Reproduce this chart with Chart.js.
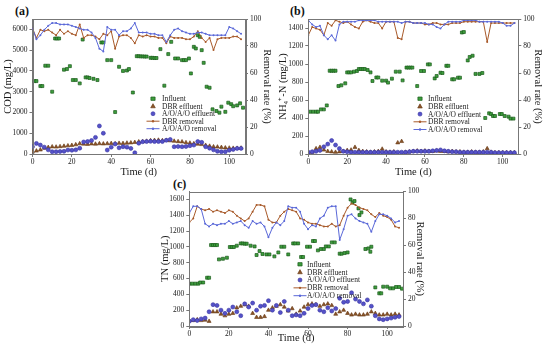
<!DOCTYPE html>
<html><head><meta charset="utf-8">
<script src="https://cdn.jsdelivr.net/npm/chart.js@4.4.1/dist/chart.umd.min.js"></script>
<style>
html,body{margin:0;padding:0;background:#fff;width:550px;height:353px;overflow:hidden;position:relative}
canvas{position:absolute}
.lbl{position:absolute;font:bold 12px 'Liberation Serif',serif;line-height:12px;color:#111}
</style></head><body>
<div class="lbl" style="left:15px;top:5px">(a)</div>
<div class="lbl" style="left:290px;top:5px">(b)</div>
<div class="lbl" style="left:173px;top:178px">(c)</div>
<canvas id="ca" width="275" height="180" style="left:0;top:0;width:275px;height:180px"></canvas>
<canvas id="cb" width="275" height="180" style="left:275px;top:0;width:275px;height:180px"></canvas>
<canvas id="cc" width="280" height="178" style="left:150px;top:175px;width:280px;height:178px"></canvas>
<script>
// ---------- data ----------
const days = [0,2,4,6,8,10,12,14,16,18,20,22,24,26,28,30,32,34,36,38,40,42,44,46,48,50,52,54,56,58,60,62,64,66,68,70,72,74,76,78,80,82,84,86,88,90,92,94,96,98,100,102,104,106];
const legendLabels = ['Influent','DBR effluent','A/O/A/O effluent','DBR removal','A/O/A/O removal'];

// (a) COD
const codInfluentDays = [1,2,4,5,6.5,8,10,11.5,12.5,13.5,16,17.5,19,20.5,22,24,25.5,27,28,29,31,33,35,36,38,40,42,44,46,48,49,51,53,54,55,56,57,58,60,61,62,63,65,67,69,70.5,72.5,74,76,77,78,79.5,80.5,82,83,84,85,86,87,88.5,90,91.5,93.5,95,96,98,99.5,101,102,104,105.5,107];
const codInfluent = [3510,3510,3270,3270,4250,4250,3000,5560,5560,5560,4060,4090,4230,3560,3560,3400,5510,3690,3690,3660,3620,3560,5370,5370,4520,4520,2020,4200,4000,4020,4090,2960,4710,4710,4700,4700,4690,4690,4630,4630,4620,4620,5050,3290,4810,5400,4600,4600,4520,4520,4520,4600,3880,5160,5080,5720,5640,5000,4390,3240,3190,2150,2070,1990,2280,2030,2470,2400,2300,2340,2440,2230];
const codDbrEffluent = [100,150,200,280,320,350,340,360,380,400,420,450,500,480,470,490,480,500,490,500,510,500,520,510,530,540,560,590,600,620,650,660,670,650,660,640,620,600,590,550,530,500,480,460,420,380,350,340,320,300,290,280,280,290];
const codAoEffluent = [350,510,430,330,200,110,110,120,130,190,180,200,280,580,600,650,800,1350,1000,190,330,480,300,350,330,270,60,520,590,600,610,600,600,600,660,700,350,360,350,360,400,430,600,560,350,280,200,130,110,110,180,220,270,270];
const codDbrRemoval = [93,86,92,91,92,90,88,92,89,91,89,88,96,86,88,88,87,85,89,88,91,78,87,88,88,86,82,88,87,88,87,87,86,86,82,87,86,86,86,85,85,87,91,86,83,86,77,85,86,86,86,87,87,85];
const codAoRemoval = [93,85,88,92,95,97,97,96,96,96,95,94,93,92,92,90,86,78,76,94,92,92,88,91,91,93,97,90,90,90,89,89,88,88,83,88,92,93,91,90,89,89,90,90,89,88,88,88,88,88,94,93,91,89];
const codTicks = [0,1000,2000,3000,4000,5000,6000];

// (b) NH4+-N
const nhInfluentDays = [1,2.5,4,5,6.5,8,9.5,11,12,13,14,15.5,17,19,20,21,22,23.5,25,26,27,28,29,30.5,32,33,35,36,38,40,41,43,45,47,48.5,50.5,51.5,52.5,53.5,56,58,59.5,61.5,62.5,65,66,68,69,71,72,74,75,77,78,79,80,82,83,84.5,86,88,89.5,91,93,94,95,96,98.5,99.5,101,103,104,105.5];
const nhInfluent = [470,470,470,470,496,496,540,925,925,925,925,755,763,785,907,907,907,915,922,944,944,944,944,933,907,811,850,850,815,815,793,837,915,915,818,960,960,960,960,755,922,922,996,996,840,867,903,900,980,980,830,830,848,848,1350,1355,1040,1078,1092,890,890,900,400,452,444,422,422,444,444,422,415,393,393];
const nhDbrEffluent = [10,20,60,75,45,30,25,20,25,30,40,45,75,40,30,25,20,25,30,55,25,20,25,125,140,20,25,30,35,30,35,30,30,35,30,30,25,30,25,25,20,20,25,20,20,25,60,20,15,15,15,15,15,15];
const nhAoEffluent = [20,25,30,40,80,110,150,100,60,30,25,20,20,20,20,20,20,20,20,20,20,20,20,20,20,20,25,30,30,30,30,30,35,40,45,35,30,25,25,20,20,20,20,20,20,20,20,20,15,15,15,15,15,15];
const nhDbrRemoval = [88,94,93,92,88,97,95,99,98,97,98,96,94,93,98,99,98,97,97,93,98,98,98,86,85,98,98,97,97,97,96,96,97,97,96,96,96,97,97,97,98,98,98,98,98,98,83,97,97,97,97,97,97,97];
const nhAoRemoval = [99,96,94,95,88,85,88,84,96,98,98,98,98,99,99,99,99,99,98,98,98,98,98,98,97,98,98,97,97,97,97,96,96,94,93,96,98,98,98,98,99,99,99,99,98,98,98,98,98,98,97,95,95,97];
const nhTicks = [0,200,400,600,800,1000,1200,1400];

// (c) TN
const tnInfluentDays = [0,1.5,3,4.5,5.5,7,9,10,11,12,13,14,15,17,19,20.5,21.5,22.5,24,26,27,28,29,31,33,34,35.5,37,39,40.5,43,45,46.5,48,50,52.5,53.5,55,56.5,57.5,59.5,61,62.5,63.5,65,66.5,68,69,70.5,72,73.5,76,77,78.5,80,81.5,82.5,83.5,85.5,86,87,89,90.5,91.5,92,94,96,97,98,100,101.5,103,104.5,106,107.5];
const tnInfluent = [535,535,535,535,550,550,610,610,1023,1023,1023,1023,842,850,863,998,998,998,1015,1044,1044,1040,1040,1015,1006,897,947,910,905,905,880,930,1002,1002,905,1044,1044,1044,872,872,1002,1002,1074,1074,956,973,973,1006,1006,1057,1057,914,914,922,930,1600,1562,1579,1486,1402,1436,973,981,939,1002,488,413,413,497,497,476,476,493,493,472];
const tnDbrEffluent = [70,70,80,70,75,60,180,180,150,130,150,160,230,250,270,250,160,110,110,120,200,230,250,270,240,190,220,150,190,240,270,280,270,250,270,280,260,150,180,200,160,140,150,140,140,150,180,160,140,140,150,140,150,140];
const tnAoEffluent = [60,80,70,90,100,180,270,260,200,160,200,240,180,130,280,240,290,200,250,260,320,200,260,170,310,200,130,140,130,160,220,260,270,200,180,230,190,220,350,300,310,420,340,310,280,330,250,130,90,80,90,100,110,120];
const tnDbrRemoval = [77,80,89,87,86,87,85,86,85,84,86,85,82,80,78,80,85,90,90,89,79,77,77,82,85,87,86,85,80,79,77,76,76,75,74,74,76,74,75,82,88,91,90,88,87,86,83,81,84,82,81,79,74,73];
const tnAoRemoval = [84,89,89,87,76,74,76,75,76,76,78,76,77,78,75,73,78,76,77,74,66,73,77,75,78,89,88,88,85,76,72,75,74,80,82,88,89,89,64,72,82,83,80,78,77,76,70,78,83,83,82,80,77,78];
const tnTicks = [0,200,400,600,800,1000,1200,1400,1600];

const timeTicks = [0,20,40,60,80,100];
const removalTicks = [0,20,40,60,80,100];

// ---------- helpers ----------
const FONT = "'Liberation Serif', 'Times New Roman', serif";
const AX = '#777';
const TXT = '#1a1a1a';
const zip = (xs, ys) => xs.map((x, i) => ({x: x, y: ys[i]}));
const plain = v => String(v);

function drawMarker(ctx, style, r, x, y, fill, stroke, bw) {
  ctx.save();
  ctx.fillStyle = fill; ctx.strokeStyle = stroke; ctx.lineWidth = bw;
  ctx.beginPath();
  if (style === 'rect') {
    ctx.rect(x - r, y - r * 0.8, 2 * r, 1.6 * r);
  } else if (style === 'triangle') {
    ctx.moveTo(x, y - r * 1.1); ctx.lineTo(x + r, y + r * 0.7); ctx.lineTo(x - r, y + r * 0.7); ctx.closePath();
  } else {
    ctx.arc(x, y, r, 0, Math.PI * 2);
  }
  ctx.fill(); if (bw > 0) ctx.stroke();
  ctx.restore();
}

const framePlugin = {
  id: 'frameLegend',
  afterDraw(chart, args, opts) {
    const ctx = chart.ctx, ca = chart.chartArea;
    ctx.save();
    ctx.strokeStyle = AX; ctx.lineWidth = 1;
    ctx.strokeRect(Math.round(ca.left) + 0.5, Math.round(ca.top) + 0.5, Math.round(ca.right - ca.left), Math.round(ca.bottom - ca.top));
    ctx.font = '7.5px ' + FONT;
    ctx.textBaseline = 'middle'; ctx.textAlign = 'left';
    chart.data.datasets.forEach((ds, i) => {
      const y = opts.y + i * opts.dy;
      if (ds.showLine) {
        ctx.strokeStyle = ds.borderColor; ctx.lineWidth = 1;
        ctx.beginPath(); ctx.moveTo(opts.sx - 6.5, y); ctx.lineTo(opts.sx + 6.5, y); ctx.stroke();
        drawMarker(ctx, 'circle', 1.2, opts.sx, y, ds.borderColor, ds.borderColor, 0);
      } else {
        drawMarker(ctx, ds.pointStyle, ds.pointRadius, opts.sx, y, ds.backgroundColor, ds.borderColor, ds.borderWidth);
      }
      ctx.fillStyle = TXT;
      ctx.fillText(ds.label, opts.tx, y + 0.5);
    });
    ctx.restore();
  }
};

function makeChart(id, o) {
  const tickFont = {family: FONT, size: 7.5};
  const titleFont = {family: FONT, size: 10.5};
  const gridOpt = {display: true, drawOnChartArea: false, drawTicks: true, tickLength: 3, color: AX};
  return new Chart(document.getElementById(id), {
    type: 'scatter',
    data: {datasets: [
      {label: legendLabels[0], data: zip(o.inX, o.inY), pointStyle: 'rect', pointRadius: 2.1, backgroundColor: '#3d9e3d', borderColor: '#1b5a1b', borderWidth: 0.7, yAxisID: 'y', order: 4},
      {label: legendLabels[1], data: zip(days, o.dbrE), pointStyle: 'triangle', pointRadius: 2.3, backgroundColor: '#8a5528', borderColor: '#653612', borderWidth: 0.6, yAxisID: 'y', order: 3},
      {label: legendLabels[2], data: zip(days, o.aoE), pointStyle: 'circle', pointRadius: 2.0, backgroundColor: '#5552c8', borderColor: '#3834a2', borderWidth: 0.6, yAxisID: 'y', order: 2},
      {label: legendLabels[3], data: zip(days, o.dbrR), showLine: true, borderColor: '#a85a2a', backgroundColor: '#a85a2a', borderWidth: 1, pointRadius: 1, pointBorderWidth: 0, yAxisID: 'y1', order: 1},
      {label: legendLabels[4], data: zip(days, o.aoR), showLine: true, borderColor: '#5a68d8', backgroundColor: '#5a68d8', borderWidth: 1, pointRadius: 1, pointBorderWidth: 0, yAxisID: 'y1', order: 0}
    ]},
    plugins: [framePlugin],
    options: {
      responsive: false, animation: false, events: [],
      layout: {padding: {top: o.top, left: 0, right: 0, bottom: 0}},
      plugins: {legend: {display: false}, tooltip: {enabled: false}, frameLegend: o.legend},
      scales: {
        x: {type: 'linear', min: 0, max: 108,
          afterBuildTicks: s => { s.ticks = timeTicks.map(v => ({value: v})); },
          afterFit: s => { s.height = o.xh; },
          ticks: {font: tickFont, color: TXT, padding: 1, maxRotation: 0, autoSkip: false, callback: plain},
          grid: gridOpt, border: {display: true, color: AX},
          title: {display: true, text: 'Time (d)', font: titleFont, color: TXT, padding: {top: 0, bottom: o.xtp}}},
        y: {type: 'linear', position: 'left', min: 0, max: o.ymax,
          afterBuildTicks: s => { s.ticks = o.yTicks.map(v => ({value: v})); },
          afterFit: s => { s.width = o.yw; },
          ticks: {font: tickFont, color: TXT, padding: 2, autoSkip: false, callback: plain},
          grid: gridOpt, border: {display: true, color: AX},
          title: {display: true, text: o.ytitle, font: titleFont, color: TXT, padding: {top: o.ytp, bottom: 0}}},
        y1: {type: 'linear', position: 'right', min: 0, max: 100,
          afterBuildTicks: s => { s.ticks = removalTicks.map(v => ({value: v})); },
          afterFit: s => { s.width = o.y1w; },
          ticks: {font: tickFont, color: TXT, padding: 2, autoSkip: false, callback: plain},
          grid: gridOpt, border: {display: true, color: AX},
          title: {display: true, text: 'Removal rate (%)', font: titleFont, color: TXT, padding: {top: o.y1tp, bottom: 0}}}
      }
    }
  });
}

makeChart('ca', {inX: codInfluentDays, inY: codInfluent, dbrE: codDbrEffluent, aoE: codAoEffluent, dbrR: codDbrRemoval, aoR: codAoRemoval,
  ymax: 6500, yTicks: codTicks, ytitle: 'COD (mg/L)', top: 19, yw: 32.5, y1w: 30, xh: 26, xtp: 1.5, ytp: 1.5, y1tp: 2,
  legend: {sx: 153, tx: 162, y: 98.7, dy: 7.5}});
makeChart('cb', {inX: nhInfluentDays, inY: nhInfluent, dbrE: nhDbrEffluent, aoE: nhAoEffluent, dbrR: nhDbrRemoval, aoR: nhAoRemoval,
  ymax: 1500, yTicks: nhTicks, ytitle: 'NH\u2084\u207A-N (mg/L)', top: 19, yw: 33.3, y1w: 31.7, xh: 26, xtp: 1.5, ytp: 1.7, y1tp: 5.7,
  legend: {sx: 145, tx: 153, y: 98.7, dy: 7.7}});
makeChart('cc', {inX: tnInfluentDays, inY: tnInfluent, dbrE: tnDbrEffluent, aoE: tnAoEffluent, dbrR: tnDbrRemoval, aoR: tnAoRemoval,
  ymax: 1700, yTicks: tnTicks, ytitle: 'TN (mg/L)', top: 16.5, yw: 39.3, y1w: 27, xh: 27, xtp: 8.7, ytp: 8.7, y1tp: 3.7,
  legend: {sx: 150, tx: 157, y: 89.3, dy: 7.85}});
</script>
</body></html>
